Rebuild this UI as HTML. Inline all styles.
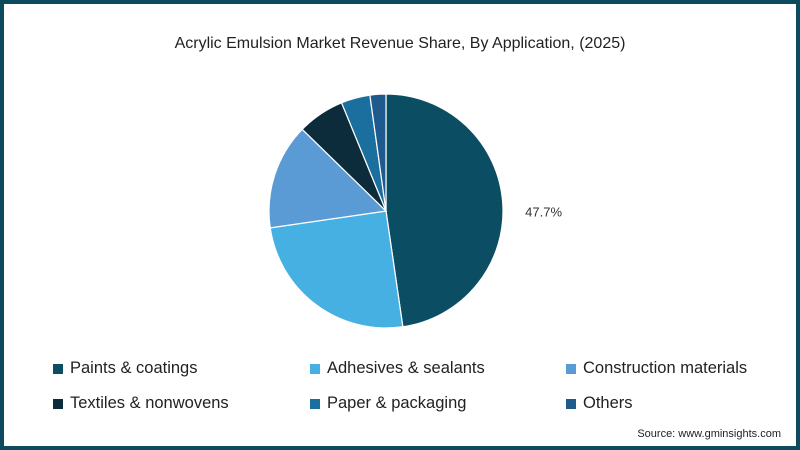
<!DOCTYPE html>
<html><head><meta charset="utf-8"><style>
body{margin:0;background:#fff}
#frame{position:relative;width:800px;height:450px;box-sizing:border-box;border:4px solid #0d4a5f;background:#fff;font-family:"Liberation Sans",sans-serif;overflow:hidden}
#title{position:absolute;top:31px;left:0;width:792px;text-align:center;font-size:16px;color:#222}
.leg{position:absolute;font-size:16.5px;color:#222;display:flex;align-items:center}
.leg span.sw{width:10px;height:10px;margin-right:7px;display:inline-block}
#src{position:absolute;right:15px;top:424px;font-size:11px;color:#222}
</style></head><body>
<div id="frame">
<div id="title">Acrylic Emulsion Market Revenue Share, By Application, (2025)</div>
<svg id="pie" width="792" height="442" style="position:absolute;left:0;top:0"></svg>
<div id="legend"></div>
<div id="src">Source: www.gminsights.com</div>
</div>
<script>
const categories=["Paints & coatings","Adhesives & sealants","Construction materials","Textiles & nonwovens","Paper & packaging","Others"];
const values=[47.7,25.0,14.6,6.5,4.0,2.2];
const colors=["#0b4d63","#47b0e3","#5b9bd5","#0c2b3b","#1b6f9f","#1f5a8f"];
const labels=["47.7%"];
const svg=document.getElementById('pie');
const NS="http://www.w3.org/2000/svg";
const cx=382,cy=207,r=117;
const total=values.reduce((a,b)=>a+b,0);
let a0=0;
function pt(a,rr){return [cx+rr*Math.sin(a),cy-rr*Math.cos(a)];}
values.forEach((v,i)=>{
  const a1=a0+v/total*2*Math.PI;
  const p0=pt(a0,r),p1=pt(a1,r);
  const large=(a1-a0)>Math.PI?1:0;
  const path=document.createElementNS(NS,'path');
  path.setAttribute('d',`M${cx},${cy} L${p0[0]},${p0[1]} A${r},${r} 0 ${large} 1 ${p1[0]},${p1[1]} Z`);
  path.setAttribute('fill',colors[i]);
  path.setAttribute('stroke','#fff');
  path.setAttribute('stroke-width','1.2');
  
  
  svg.appendChild(path);
  if(labels[i]){
    const m=(a0+a1)/2;const lp=pt(m,r+41);
    const t=document.createElementNS(NS,'text');
    t.setAttribute('x',lp[0]);t.setAttribute('y',lp[1]+17);
    t.setAttribute('text-anchor','middle');t.setAttribute('font-size','13');
    t.setAttribute('fill','#333');t.setAttribute('font-family','Liberation Sans, sans-serif');
    t.textContent=labels[i];
    
    
    svg.appendChild(t);
  }
  a0=a1;
});
const leg=document.getElementById('legend');
const colX=[49,306,562],rowY=355,rowH=35;
categories.forEach((c,i)=>{
  const d=document.createElement('div');
  d.className='leg';
  
  
  d.style.left=colX[i%3]+'px';d.style.top=(rowY+Math.floor(i/3)*rowH)+'px';
  d.innerHTML='<span class="sw" style="background:'+colors[i]+'"></span>'+c.replace('&','&amp;');
  leg.appendChild(d);
});
</script>
</body></html>
